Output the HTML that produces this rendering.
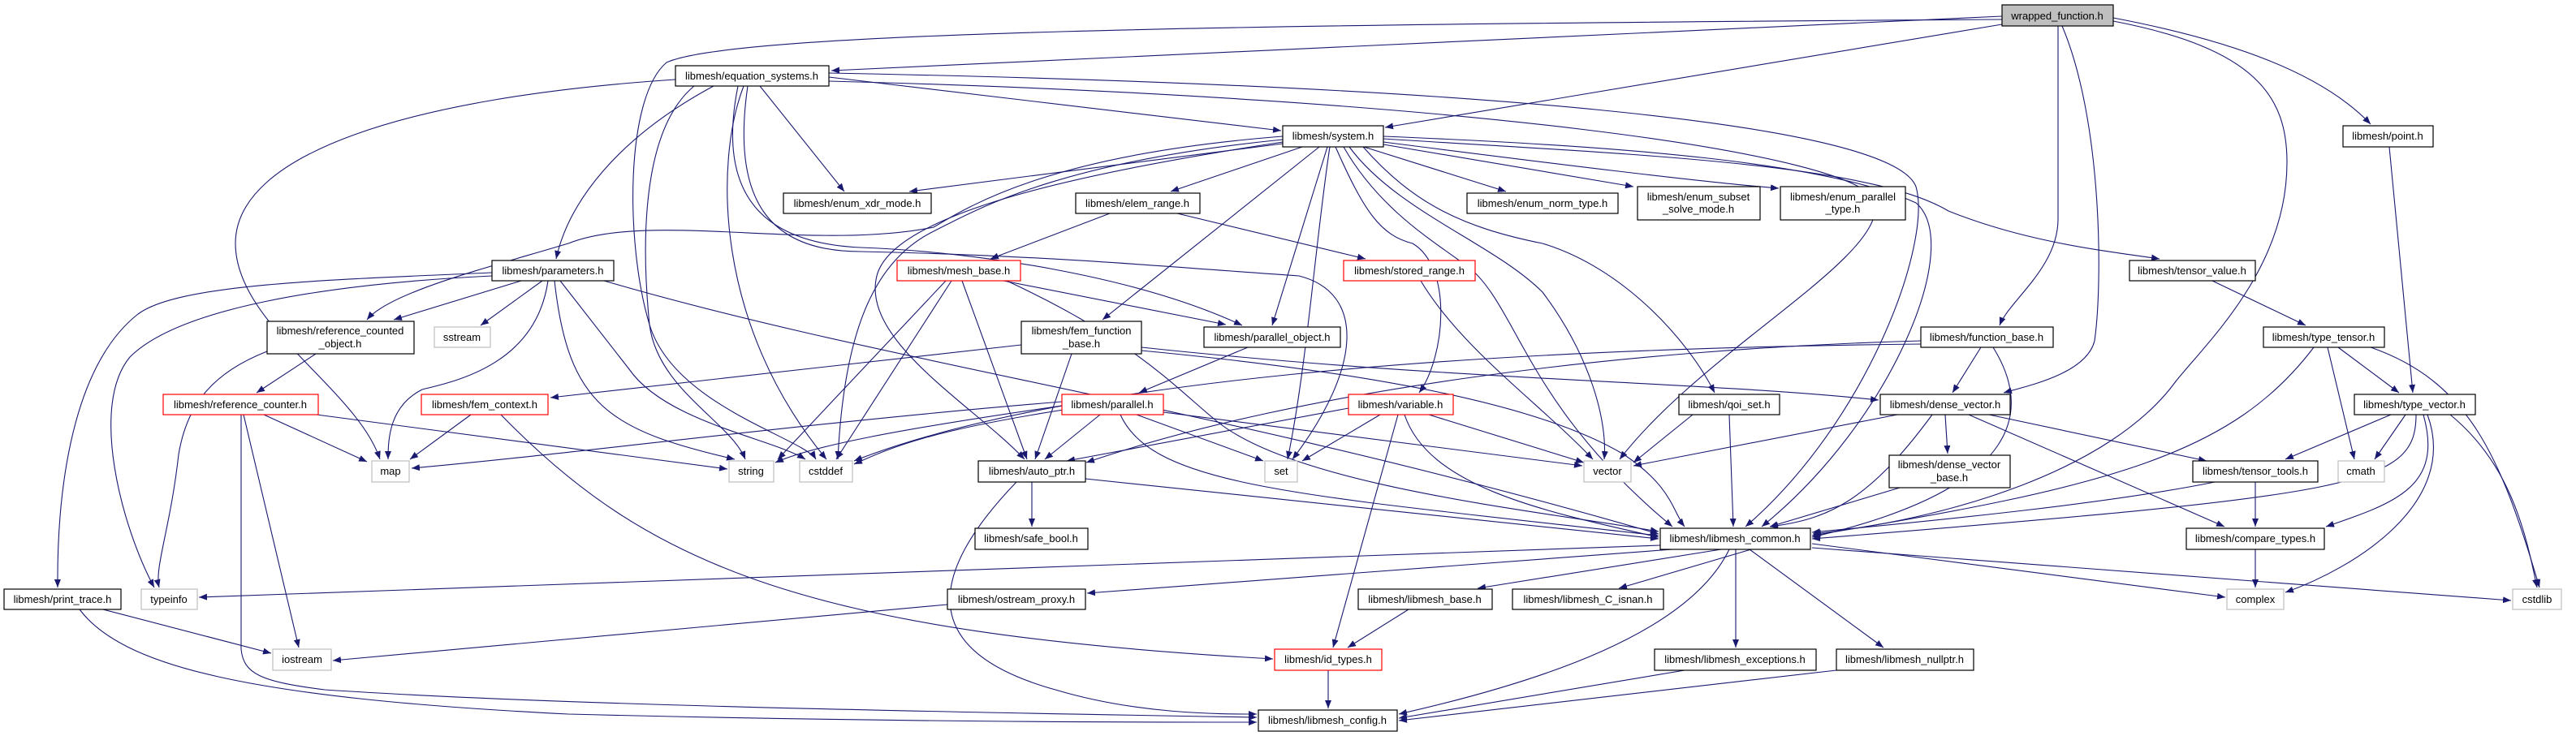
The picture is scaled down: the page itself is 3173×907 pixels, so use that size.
<!DOCTYPE html>
<html><head><meta charset="utf-8"><style>
html,body{margin:0;padding:0;background:#fff;width:3173px;height:907px;overflow:hidden}
svg{display:block}
text{font-family:"Liberation Sans",Arial,sans-serif;font-size:13px;fill:#000;text-anchor:middle}
.e{fill:none;stroke:#191970;stroke-width:1.1}
.n{fill:#fff;stroke:#000;stroke-width:1.2}
.g{fill:#fff;stroke:#bfbfbf;stroke-width:1.2}
.r{fill:#fff;stroke:#ff0000;stroke-width:1.2}
</style></head><body>
<svg width="3173" height="907" viewBox="0 0 3173 907" xmlns="http://www.w3.org/2000/svg">
<defs><marker id="a" markerWidth="11" markerHeight="8" refX="10" refY="4" orient="auto" markerUnits="userSpaceOnUse"><path d="M0,0 L10,4 L0,8 z" fill="#191970"/></marker></defs>
<g class="e" marker-end="url(#a)">
<path d="M2466,20 L1024,87"/>
<path d="M2466,24 C1500,30 900,40 821,77 C770,120 770,300 800,400 C830,500 990,540 1005,566"/>
<path d="M2466,30 L1706,157"/>
<path d="M2535,32 L2535,270 C2535,330 2475,370 2463,401"/>
<path d="M2540,32 C2590,150 2590,350 2580,420 C2570,460 2500,475 2468,484"/>
<path d="M2603,26 C2780,60 2817,120 2817,200 C2817,330 2720,420 2680,470 C2600,580 2400,640 2233,658"/>
<path d="M2603,22 C2750,50 2860,90 2920,153"/>
<path d="M1021,95 L1578,161"/>
<path d="M936,106 L1040,236"/>
<path d="M879,106 C760,170 700,250 685,319"/>
<path d="M832,98 C500,120 290,190 290,300 C290,400 440,480 468,566"/>
<path d="M855,106 C790,160 790,300 800,400 C810,480 900,520 918,566"/>
<path d="M916,106 C880,200 880,400 1018,566"/>
<path d="M921,106 C900,250 950,310 1060,310 C1300,315 1450,330 1600,340 C1680,360 1680,450 1592,566"/>
<path d="M909,106 C880,250 950,300 1060,305 C1200,310 1400,340 1530,401"/>
<path d="M1021,90 C1800,105 2330,150 2360,230 C2380,300 2300,520 2150,649"/>
<path d="M1021,100 C1800,120 2300,190 2310,250 C2320,320 2100,430 1995,566"/>
<path d="M1580,177 L1120,236"/>
<path d="M1604,181 L1442,236"/>
<path d="M1580,168 C1300,190 1200,250 1150,280 C1000,310 800,260 700,300 C600,330 480,360 452,394"/>
<path d="M1580,172 C1300,200 1200,260 1150,285 C1080,320 1040,400 1032,566"/>
<path d="M1580,175 C1350,210 1100,260 1080,340 C1060,420 1200,500 1262,566"/>
<path d="M1625,181 L1358,394"/>
<path d="M1635,181 L1567,401"/>
<path d="M1638,181 C1620,300 1610,450 1586,566"/>
<path d="M1645,181 C1680,260 1700,290 1740,300 C1790,330 1780,440 1748,484"/>
<path d="M1655,181 C1700,260 1770,300 1810,330 C1870,380 1880,500 2060,649"/>
<path d="M1662,181 C1720,260 1840,300 1900,360 C1960,440 1980,520 1976,566"/>
<path d="M1679,181 C1740,250 1800,280 1900,300 C2000,330 2080,420 2112,484"/>
<path d="M1680,181 L1855,236"/>
<path d="M1704,178 L2012,230"/>
<path d="M1704,175 C1900,200 2100,225 2191,232"/>
<path d="M1704,171 C2000,190 2300,200 2400,260 C2500,300 2600,310 2660,319"/>
<path d="M1704,168 C2000,180 2250,200 2360,250 C2420,300 2330,520 2170,649"/>
<path d="M1367,263 L1220,319"/>
<path d="M1450,263 L1682,319"/>
<path d="M1165,346 L958,566"/>
<path d="M1172,346 L1030,566"/>
<path d="M1185,346 L1265,566"/>
<path d="M1236,346 L1510,400"/>
<path d="M1240,346 C1400,420 1450,480 1500,520 C1600,600 1900,630 2043,655"/>
<path d="M1750,346 C1800,430 1900,500 1962,566"/>
<path d="M1258,425 L678,490"/>
<path d="M1320,436 L1275,566"/>
<path d="M1406,428 C1800,470 2100,470 2314,493"/>
<path d="M1406,432 C1700,460 1900,500 2000,560 C2060,600 2060,630 2075,649"/>
<path d="M1537,428 L1403,484"/>
<path d="M642,346 L485,394"/>
<path d="M668,346 L592,401"/>
<path d="M675,346 C660,450 560,470 520,480 C480,500 478,540 478,566"/>
<path d="M683,346 C700,500 750,530 905,566"/>
<path d="M690,346 L775,455 C820,520 950,540 992,566"/>
<path d="M744,346 C1100,450 1500,500 2043,658"/>
<path d="M606,340 C400,350 220,380 160,440 C110,500 150,650 190,724"/>
<path d="M606,336 C400,345 220,350 170,387 C90,450 70,600 71,724"/>
<path d="M329,433 C260,460 230,500 220,560 C210,650 190,700 196,724"/>
<path d="M389,436 L316,484"/>
<path d="M325,511 L452,569"/>
<path d="M390,511 L896,578"/>
<path d="M300,511 L368,798"/>
<path d="M297,511 L297,800 C300,830 320,840 400,850 C700,870 1200,878 1548,884"/>
<path d="M580,511 L505,566"/>
<path d="M617,511 C800,700 1000,780 1568,812"/>
<path d="M127,751 L334,805"/>
<path d="M98,751 C150,820 300,860 700,880 C1100,890 1400,890 1548,890"/>
<path d="M1308,500 C1100,530 1000,550 955,570"/>
<path d="M1310,505 C1150,530 1100,550 1052,572"/>
<path d="M1308,495 C1000,520 700,560 507,577"/>
<path d="M1355,511 L1287,566"/>
<path d="M1400,511 L1556,568"/>
<path d="M1433,508 L1949,574"/>
<path d="M1380,511 C1420,600 1600,610 2043,660"/>
<path d="M1661,503 L1314,568"/>
<path d="M1700,511 L1604,568"/>
<path d="M1760,511 L1951,570"/>
<path d="M1730,511 C1760,600 1900,630 2043,662"/>
<path d="M1722,511 L1642,798"/>
<path d="M1271,594 L1271,649"/>
<path d="M1337,590 L2043,664"/>
<path d="M1252,594 C1150,700 1120,800 1300,850 C1400,880 1500,880 1548,880"/>
<path d="M2085,511 L2012,570"/>
<path d="M2130,511 L2135,649"/>
<path d="M2337,511 L2012,574"/>
<path d="M2396,511 L2399,559"/>
<path d="M2380,511 C2300,620 2250,640 2180,649"/>
<path d="M2450,511 L2718,568"/>
<path d="M2425,511 L2740,649"/>
<path d="M2340,601 L2180,649"/>
<path d="M2440,428 L2405,484"/>
<path d="M2455,428 C2500,500 2500,600 2232,662"/>
<path d="M2366,420 C2000,430 1600,480 1338,570"/>
<path d="M2366,424 C1800,430 1300,470 1052,568"/>
<path d="M2725,346 L2840,401"/>
<path d="M2880,428 L2955,484"/>
<path d="M2867,428 L2900,566"/>
<path d="M2920,428 C3040,470 3080,560 3128,724"/>
<path d="M2850,428 C2750,560 2600,600 2232,660"/>
<path d="M2943,181 L2972,484"/>
<path d="M2945,511 L2815,566"/>
<path d="M2963,511 L2925,566"/>
<path d="M2976,511 C2976,600 2900,610 2232,664"/>
<path d="M2985,511 C3010,600 2950,620 2865,649"/>
<path d="M2990,511 C3030,620 2900,700 2815,730"/>
<path d="M3018,511 C3090,570 3110,650 3125,724"/>
<path d="M2728,594 C2600,620 2400,640 2232,656"/>
<path d="M2778,594 L2778,649"/>
<path d="M2778,677 L2778,724"/>
<path d="M2045,672 L245,736"/>
<path d="M2060,677 L1339,731"/>
<path d="M2120,677 L1820,725"/>
<path d="M2157,677 L1994,725"/>
<path d="M2138,677 L2138,798"/>
<path d="M2155,677 L2320,798"/>
<path d="M2232,670 L2741,736"/>
<path d="M2232,675 L3093,740"/>
<path d="M2130,677 C2080,780 1900,840 1723,880"/>
<path d="M1167,745 L410,814"/>
<path d="M1735,751 L1660,798"/>
<path d="M1636,826 L1636,873"/>
<path d="M2075,826 L1723,885"/>
<path d="M2262,826 L1723,888"/>
</g>
<!-- nodes -->
<rect x="2466" y="6" width="137" height="26" fill="#bfbfbf" stroke="#000" stroke-width="1.2"/><text x="2534" y="24">wrapped_function.h</text>
<rect class="n" x="832" y="81" width="189" height="25"/><text x="926" y="98">libmesh/equation_systems.h</text>
<rect class="n" x="1580" y="155" width="124" height="26"/><text x="1642" y="172">libmesh/system.h</text>
<rect class="n" x="2886" y="155" width="111" height="26"/><text x="2941" y="172">libmesh/point.h</text>
<rect class="n" x="965" y="238" width="182" height="25"/><text x="1056" y="255">libmesh/enum_xdr_mode.h</text>
<rect class="n" x="1325" y="238" width="153" height="25"/><text x="1401" y="255">libmesh/elem_range.h</text>
<rect class="n" x="1807" y="238" width="186" height="25"/><text x="1900" y="255">libmesh/enum_norm_type.h</text>
<rect class="n" x="2017" y="230" width="151" height="41"/><text x="2092" y="247">libmesh/enum_subset</text><text x="2092" y="262">_solve_mode.h</text>
<rect class="n" x="2193" y="230" width="154" height="41"/><text x="2270" y="247">libmesh/enum_parallel</text><text x="2270" y="262">_type.h</text>
<rect class="n" x="606" y="321" width="150" height="25"/><text x="681" y="338">libmesh/parameters.h</text>
<rect class="r" x="1105" y="321" width="152" height="25"/><text x="1181" y="338">libmesh/mesh_base.h</text>
<rect class="r" x="1655" y="321" width="162" height="25"/><text x="1736" y="338">libmesh/stored_range.h</text>
<rect class="n" x="2623" y="321" width="155" height="25"/><text x="2700" y="338">libmesh/tensor_value.h</text>
<rect class="n" x="329" y="396" width="181" height="40"/><text x="419" y="412">libmesh/reference_counted</text><text x="419" y="428">_object.h</text>
<rect class="g" x="535" y="403" width="69" height="25"/><text x="569" y="420">sstream</text>
<rect class="n" x="1258" y="396" width="148" height="40"/><text x="1332" y="412">libmesh/fem_function</text><text x="1332" y="428">_base.h</text>
<rect class="n" x="1483" y="403" width="168" height="25"/><text x="1567" y="420">libmesh/parallel_object.h</text>
<rect class="n" x="2366" y="403" width="163" height="25"/><text x="2447" y="420">libmesh/function_base.h</text>
<rect class="n" x="2788" y="403" width="149" height="25"/><text x="2862" y="420">libmesh/type_tensor.h</text>
<rect class="r" x="201" y="486" width="191" height="25"/><text x="296" y="503">libmesh/reference_counter.h</text>
<rect class="r" x="519" y="486" width="156" height="25"/><text x="597" y="503">libmesh/fem_context.h</text>
<rect class="r" x="1308" y="486" width="125" height="25"/><text x="1370" y="503">libmesh/parallel.h</text>
<rect class="r" x="1661" y="486" width="129" height="25"/><text x="1725" y="503">libmesh/variable.h</text>
<rect class="n" x="2068" y="486" width="124" height="25"/><text x="2130" y="503">libmesh/qoi_set.h</text>
<rect class="n" x="2316" y="486" width="160" height="25"/><text x="2396" y="503">libmesh/dense_vector.h</text>
<rect class="n" x="2900" y="486" width="149" height="25"/><text x="2974" y="503">libmesh/type_vector.h</text>
<rect class="g" x="458" y="568" width="46" height="26"/><text x="481" y="585">map</text>
<rect class="g" x="898" y="568" width="55" height="26"/><text x="925" y="585">string</text>
<rect class="g" x="985" y="568" width="65" height="26"/><text x="1017" y="585">cstddef</text>
<rect class="n" x="1205" y="568" width="132" height="26"/><text x="1271" y="585">libmesh/auto_ptr.h</text>
<rect class="g" x="1558" y="568" width="40" height="26"/><text x="1578" y="585">set</text>
<rect class="g" x="1951" y="568" width="58" height="26"/><text x="1980" y="585">vector</text>
<rect class="n" x="2327" y="561" width="149" height="40"/><text x="2401" y="577">libmesh/dense_vector</text><text x="2401" y="593">_base.h</text>
<rect class="n" x="2701" y="568" width="154" height="26"/><text x="2778" y="585">libmesh/tensor_tools.h</text>
<rect class="g" x="2880" y="568" width="57" height="26"/><text x="2908" y="585">cmath</text>
<rect class="n" x="1201" y="651" width="139" height="26"/><text x="1270" y="668">libmesh/safe_bool.h</text>
<rect class="n" x="2045" y="651" width="185" height="26"/><text x="2137" y="668">libmesh/libmesh_common.h</text>
<rect class="n" x="2693" y="651" width="170" height="26"/><text x="2778" y="668">libmesh/compare_types.h</text>
<rect class="n" x="5" y="726" width="144" height="25"/><text x="77" y="743">libmesh/print_trace.h</text>
<rect class="g" x="174" y="726" width="69" height="25"/><text x="208" y="743">typeinfo</text>
<rect class="n" x="1167" y="726" width="170" height="25"/><text x="1252" y="743">libmesh/ostream_proxy.h</text>
<rect class="n" x="1673" y="726" width="165" height="25"/><text x="1755" y="743">libmesh/libmesh_base.h</text>
<rect class="n" x="1863" y="726" width="186" height="25"/><text x="1956" y="743">libmesh/libmesh_C_isnan.h</text>
<rect class="g" x="2743" y="726" width="70" height="25"/><text x="2778" y="743">complex</text>
<rect class="g" x="3095" y="726" width="60" height="25"/><text x="3125" y="743">cstdlib</text>
<rect class="g" x="336" y="800" width="72" height="26"/><text x="372" y="817">iostream</text>
<rect class="r" x="1570" y="800" width="132" height="26"/><text x="1636" y="817">libmesh/id_types.h</text>
<rect class="n" x="2038" y="800" width="199" height="26"/><text x="2137" y="817">libmesh/libmesh_exceptions.h</text>
<rect class="n" x="2262" y="800" width="169" height="26"/><text x="2346" y="817">libmesh/libmesh_nullptr.h</text>
<rect class="n" x="1550" y="875" width="171" height="26"/><text x="1635" y="892">libmesh/libmesh_config.h</text>
</svg>
</body></html>
